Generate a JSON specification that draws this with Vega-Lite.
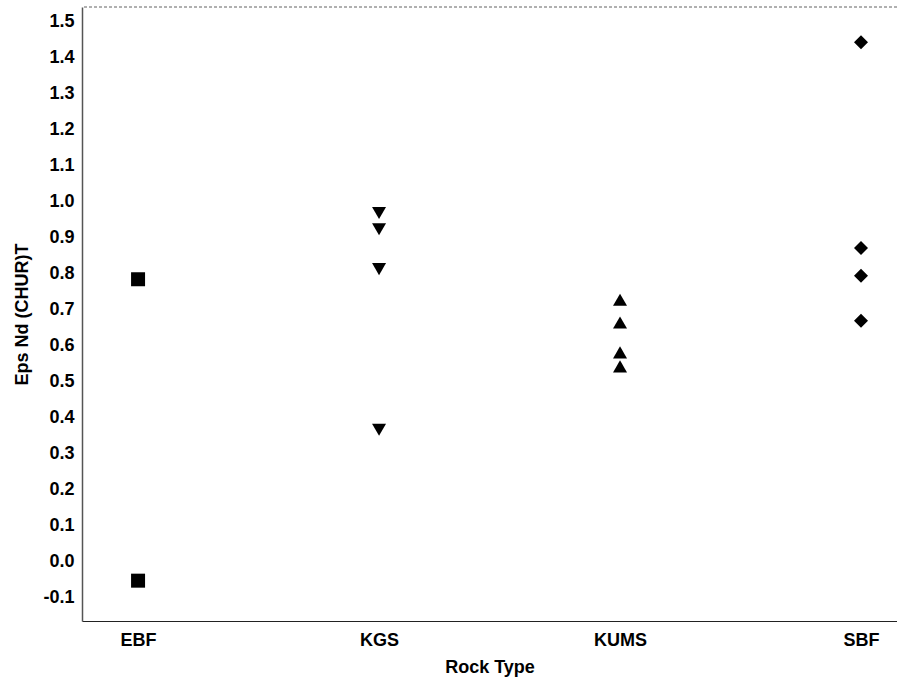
{
  "$schema": "https://vega.github.io/schema/vega-lite/v6.json",
  "autosize": {"type": "none"},
  "padding": {"left": 82, "top": 7, "right": 0, "bottom": 61},
  "width": 815,
  "height": 614,
  "background": "white",
  "config": {
    "view": {"stroke": null},
    "font": "Liberation Sans",
    "axisY": {
      "ticks": false,
      "grid": false,
      "labelOverlap": false,
      "labelFlush": false,
      "domainColor": "#555",
      "domainWidth": 1.5,
      "labelFont": "Liberation Sans",
      "labelFontSize": 18,
      "labelFontWeight": "bold",
      "labelColor": "black",
      "labelPadding": 8,
      "titleFont": "Liberation Sans",
      "titleFontSize": 18,
      "titleFontWeight": "bold",
      "titleColor": "black",
      "titleX": -60,
      "titleY": 307,
      "titleAngle": -90,
      "titleAlign": "center",
      "titleBaseline": "middle"
    }
  },
  "data": {
    "values": [
      {"rock": "EBF", "eps": 0.784},
      {"rock": "EBF", "eps": -0.053},
      {"rock": "KGS", "eps": 0.968},
      {"rock": "KGS", "eps": 0.923},
      {"rock": "KGS", "eps": 0.812},
      {"rock": "KGS", "eps": 0.366},
      {"rock": "KUMS", "eps": 0.727},
      {"rock": "KUMS", "eps": 0.664},
      {"rock": "KUMS", "eps": 0.581},
      {"rock": "KUMS", "eps": 0.542},
      {"rock": "SBF", "eps": 1.442},
      {"rock": "SBF", "eps": 0.871},
      {"rock": "SBF", "eps": 0.794},
      {"rock": "SBF", "eps": 0.669}
    ]
  },
  "layer": [
    {
      "mark": {"type": "point", "filled": true, "color": "black", "size": 196, "opacity": 1},
      "encoding": {
        "x": {
          "field": "rock",
          "type": "nominal",
          "sort": ["EBF", "KGS", "KUMS", "SBF"],
          "scale": {"type": "point", "padding": 0.191, "align": 0.609},
          "axis": {
            "title": "Rock Type",
            "labelAngle": 0,
            "ticks": false,
            "grid": false,
            "domainColor": "#222",
            "domainWidth": 1.2,
            "labelFont": "Liberation Sans",
            "labelFontSize": 18,
            "labelFontWeight": "bold",
            "labelColor": "black",
            "labelPadding": 10,
            "titleFont": "Liberation Sans",
            "titleFontSize": 18,
            "titleFontWeight": "bold",
            "titleColor": "black",
            "titleY": 46,
            "titleBaseline": "middle"
          }
        },
        "y": {
          "field": "eps",
          "type": "quantitative",
          "scale": {"domain": [-0.165, 1.54], "nice": false, "zero": false},
          "axis": {
            "title": "Eps Nd (CHUR)T",
            "values": [-0.1, 0, 0.1, 0.2, 0.3, 0.4, 0.5, 0.6, 0.7, 0.8, 0.9, 1.0, 1.1, 1.2, 1.3, 1.4, 1.5],
            "format": ".1f",
            "labelExpr": "replace(datum.label, '\u2212', '-')"
          }
        },
        "shape": {
          "field": "rock",
          "type": "nominal",
          "scale": {"domain": ["EBF", "KGS", "KUMS", "SBF"], "range": ["square", "triangle-down", "triangle-up", "diamond"]},
          "legend": null
        }
      }
    },
    {
      "mark": {"type": "rule", "strokeDash": [3, 2], "color": "#b0b0b0", "strokeWidth": 1},
      "encoding": {
        "y": {
          "datum": 1.54,
          "type": "quantitative",
          "axis": {
            "title": "Eps Nd (CHUR)T",
            "values": [-0.1, 0, 0.1, 0.2, 0.3, 0.4, 0.5, 0.6, 0.7, 0.8, 0.9, 1.0, 1.1, 1.2, 1.3, 1.4, 1.5],
            "format": ".1f",
            "labelExpr": "replace(datum.label, '\u2212', '-')"
          }
        }
      }
    }
  ]
}
